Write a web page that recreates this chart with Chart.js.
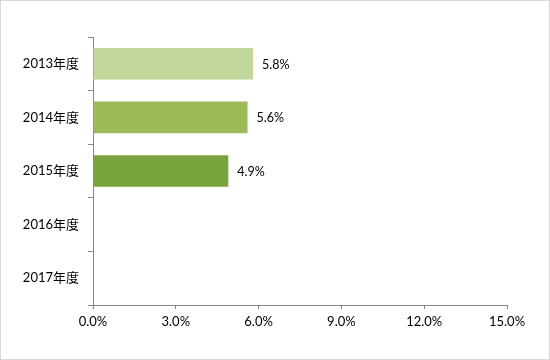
<!DOCTYPE html>
<html>
<head>
<meta charset="utf-8">
<script src="https://cdn.jsdelivr.net/npm/chart.js@4"></script>
<style>
html,body{margin:0;padding:0;background:#fff;}
#wrap{position:relative;width:550px;height:360px;box-sizing:border-box;border:1px solid #d9d9d9;}
canvas{position:absolute;left:0;top:0;}
</style>
</head>
<body>
<div id="wrap"><canvas id="c" width="550" height="360"></canvas></div>
<script>
const categories = ['2013年度','2014年度','2015年度','2016年度','2017年度'];
const values = [5.8, 5.6, 4.9, null, null];
const barColors = ['#C4D79B','#9BBB59','#78A53A','#9BBB59','#9BBB59'];
const xTicks = [0, 3, 6, 9, 12, 15];

const FONT = "Lato, 'Noto Sans CJK JP', sans-serif";

const labelPlugin = {
  id: 'barLabels',
  afterDatasetsDraw(chart) {
    const ctx = chart.ctx;
    const meta = chart.getDatasetMeta(0);
    ctx.save();
    ctx.font = "12.5px " + FONT;
    ctx.fillStyle = '#000';
    ctx.textAlign = 'left';
    ctx.textBaseline = 'middle';
    meta.data.forEach((bar, i) => {
      const v = values[i];
      if (v === null || v === undefined) return;
      ctx.fillText(v.toFixed(1) + '%', bar.x + 9, bar.y + 1);
    });
    ctx.restore();
  }
};

new Chart(document.getElementById('c'), {
  type: 'bar',
  data: {
    labels: categories,
    datasets: [{
      data: values,
      backgroundColor: barColors,
      borderWidth: 0,
      categoryPercentage: 1.0,
      barPercentage: 0.59
    }]
  },
  options: {
    indexAxis: 'y',
    responsive: false,
    animation: false,
    devicePixelRatio: 1,
    layout: { padding: { left: 0, right: 44, top: 36, bottom: 0 } },
    plugins: { legend: { display: false }, tooltip: { enabled: false } },
    scales: {
      y: {
        type: 'category',
        afterFit(s) { s.width = 92; },
        grid: { display: true, drawOnChartArea: false, drawTicks: true, tickLength: 5, color: '#868686', offset: true },
        border: { display: true, color: '#868686', width: 1 },
        ticks: { color: '#000', font: { family: FONT, size: 13 }, padding: 9 }
      },
      x: {
        min: 0, max: 15,
        afterFit(s) { s.height = 56; },
        afterBuildTicks(s) { s.ticks = xTicks.map(v => ({ value: v })); },
        grid: { display: true, drawOnChartArea: false, drawTicks: true, tickLength: 4, color: '#868686' },
        border: { display: true, color: '#868686', width: 1 },
        ticks: { color: '#000', font: { family: FONT, size: 13 }, padding: 5,
          callback: v => Number(v).toFixed(1) + '%' }
      }
    }
  },
  plugins: [labelPlugin]
});
</script>
</body>
</html>
